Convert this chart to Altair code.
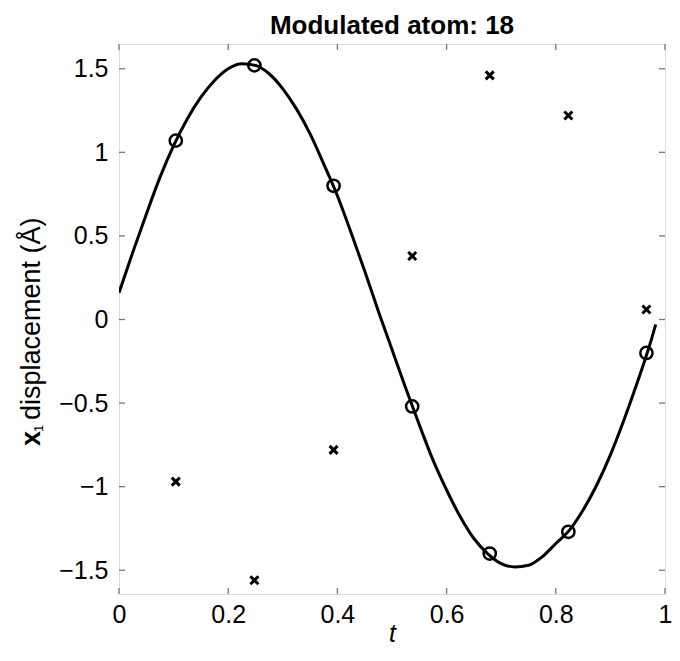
import altair as alt
import pandas as pd

# ---- data ----
sample_t = [0.104, 0.248, 0.393, 0.537, 0.679, 0.823, 0.966]
circle_y = [1.07, 1.52, 0.80, -0.52, -1.40, -1.27, -0.20]
cross_y = [-0.97, -1.56, -0.78, 0.38, 1.46, 1.22, 0.06]

curve_t = [0.000, 0.025, 0.050, 0.075, 0.100, 0.125, 0.150, 0.175, 0.200, 0.225,
           0.250, 0.275, 0.300, 0.325, 0.350, 0.375, 0.400, 0.425, 0.450, 0.475,
           0.500, 0.525, 0.550, 0.575, 0.600, 0.625, 0.650, 0.675, 0.700, 0.725,
           0.750, 0.775, 0.800, 0.825, 0.850, 0.875, 0.900, 0.925, 0.950, 0.975, 0.983]
curve_y = [0.16, 0.40, 0.63, 0.85, 1.04, 1.20, 1.33, 1.43, 1.50, 1.53,
           1.52, 1.47, 1.38, 1.26, 1.11, 0.93, 0.74, 0.52, 0.29, 0.05,
           -0.18, -0.41, -0.63, -0.84, -1.02, -1.18, -1.31, -1.40, -1.46, -1.48,
           -1.47, -1.42, -1.34, -1.26, -1.14, -0.99, -0.81, -0.60, -0.37, -0.12, -0.03]

x_ticks = [0, 0.2, 0.4, 0.6, 0.8, 1.0]
y_ticks = [-1.5, -1, -0.5, 0, 0.5, 1, 1.5]

title_text = "Modulated atom: 18"
x_title = "t"
y_title_bold = "x"
y_title_sub = "1"
y_title_rest = "displacement (Å)"

X_DOMAIN = [0, 1]
Y_DOMAIN = [-1.642, 1.648]
W, H = 546, 550
FONT = "Liberation Sans"

curve_df = pd.DataFrame({"t": curve_t, "y": curve_y})
pts_df = pd.DataFrame({"t": sample_t, "c": circle_y, "x": cross_y})
xt_df = pd.DataFrame({"v": x_ticks})
yt_df = pd.DataFrame({"v": y_ticks})
one = pd.DataFrame({"a": [0]})

xs = alt.Scale(domain=X_DOMAIN, nice=False, zero=False)
ys = alt.Scale(domain=Y_DOMAIN, nice=False, zero=False)

x_axis = alt.Axis(values=x_ticks, format="~g", ticks=False, domain=False, grid=False,
                  labelFontSize=25, labelFont=FONT, labelColor="black", labelPadding=8,
                  labelFlush=False, title=x_title, titleFont=FONT, titleFontSize=25,
                  titleFontStyle="italic", titleFontWeight="normal", titleColor="black",
                  titlePadding=-6)
y_axis = alt.Axis(values=y_ticks, format="~g", ticks=False, domain=False, grid=False,
                  labelFontSize=25, labelFont=FONT, labelColor="black", labelPadding=11,
                  labelFlush=False, title=None)

curve = alt.Chart(curve_df).mark_line(color="black", strokeWidth=3, clip=True,
                                      interpolate="monotone").encode(
    x=alt.X("t:Q", scale=xs, axis=x_axis),
    y=alt.Y("y:Q", scale=ys, axis=y_axis),
)
circles = alt.Chart(pts_df).mark_point(shape="circle", size=150, color="black",
                                        strokeWidth=2.5, filled=False, opacity=1).encode(
    x=alt.X("t:Q", scale=xs), y=alt.Y("c:Q", scale=ys))
crosses = alt.Chart(pts_df).mark_point(shape="M-1,-1L1,1M-1,1L1,-1", size=64, color="black",
                                        strokeWidth=3, filled=False, opacity=1).encode(
    x=alt.X("t:Q", scale=xs), y=alt.Y("x:Q", scale=ys))

TICK_C = "#777777"
tick_bottom = alt.Chart(xt_df).mark_rule(color=TICK_C, strokeWidth=1.3).encode(
    x=alt.X("v:Q", scale=xs), y=alt.value(H), y2=alt.value(H - 6))
tick_top = alt.Chart(xt_df).mark_rule(color=TICK_C, strokeWidth=1.3).encode(
    x=alt.X("v:Q", scale=xs), y=alt.value(0), y2=alt.value(6))
tick_left = alt.Chart(yt_df).mark_rule(color=TICK_C, strokeWidth=1.3).encode(
    y=alt.Y("v:Q", scale=ys), x=alt.value(0), x2=alt.value(6))
tick_right = alt.Chart(yt_df).mark_rule(color=TICK_C, strokeWidth=1.3).encode(
    y=alt.Y("v:Q", scale=ys), x=alt.value(W), x2=alt.value(W - 6))

yt1 = alt.Chart(one).mark_text(text=y_title_bold, angle=270, align="left", baseline="alphabetic",
                               font=FONT, fontSize=27, fontWeight="bold", color="black").encode(
    x=alt.value(-79), y=alt.value(402))
yt2 = alt.Chart(one).mark_text(text=y_title_sub, angle=270, align="left", baseline="alphabetic",
                               font=FONT, fontSize=13, color="black").encode(
    x=alt.value(-76), y=alt.value(388))
yt3 = alt.Chart(one).mark_text(text=y_title_rest, angle=270, align="left", baseline="alphabetic",
                               font=FONT, fontSize=27, color="black").encode(
    x=alt.value(-79), y=alt.value(376))

chart = alt.layer(curve, circles, crosses, tick_bottom, tick_top, tick_left, tick_right,
                  yt1, yt2, yt3).properties(
    width=W, height=H,
    title=alt.TitleParams(title_text, font=FONT, fontSize=26, fontWeight="bold",
                          color="black", anchor="middle", offset=4),
    autosize=alt.AutoSizeParams(type="none"),
    padding={"left": 111, "top": 36, "right": 7, "bottom": 55},
).configure_view(stroke="#777777", strokeWidth=1.5).configure(background="white")

chart.save("out.html", embed_options={"renderer": "svg", "actions": False})
